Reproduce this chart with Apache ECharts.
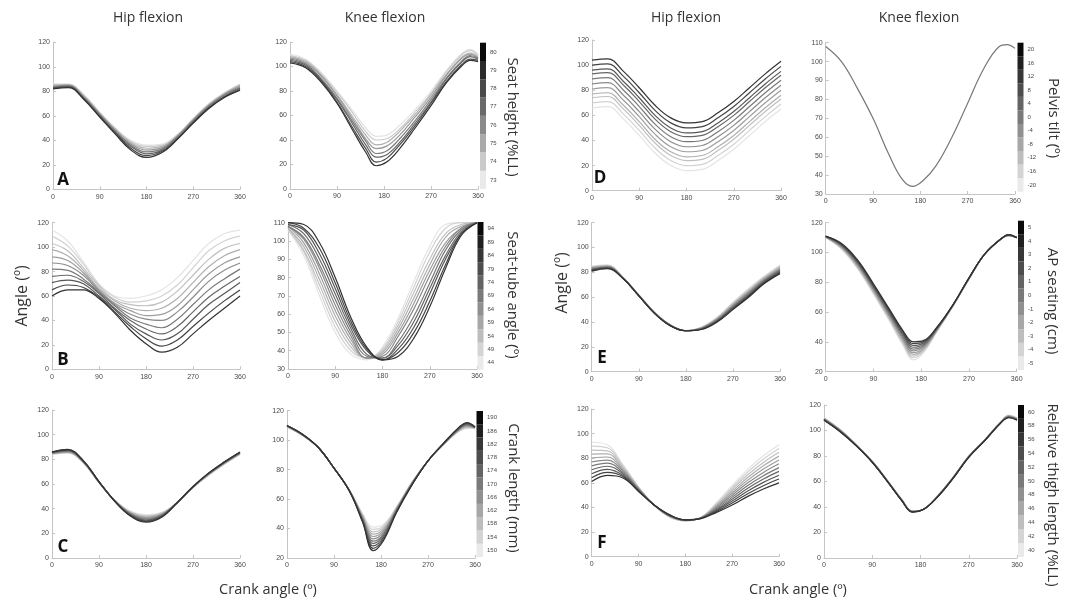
<!DOCTYPE html>
<html><head><meta charset="utf-8">
<script src="https://cdn.jsdelivr.net/npm/echarts/dist/echarts.min.js"></script>
<style>html,body{margin:0;padding:0;background:#fff}#c{width:1065px;height:604px}</style>
</head><body><div id="c"></div>
<script>
// crank angles (deg)
const X  = [0,30,60,90,120,150,180,210,240,270,300,330,360];
const XK = [0,30,60,90,120,145,165,185,210,240,270,300,330,345,360];

// colour-bar tick labels (bottom -> top)
const A_levels = ['73','74','75','76','77','78','79','80'];
const B_levels = ['44','49','54','59','64','69','74','79','84','89','94'];
const C_levels = ['150','154','158','162','166','170','174','178','182','186','190'];
const D_levels = ['-20','-16','-12','-8','-4','0','4','8','12','16','20'];
const E_levels = ['-5','-4','-3','-2','-1','0','1','2','3','4','5'];
const F_levels = ['40','42','44','46','48','50','52','54','56','58','60'];

// A: seat height, hip (X)
const A_hip = [
 [86,86,77,63,50,40,36,37,45,58,70,79,86],
 [85.5,85.5,76.5,62.5,49.5,39,35,36,44.5,57.5,69.5,78.5,85.5],
 [85,85,76,62,49,38,33.5,35,44,57,69,78,85],
 [84,85,75,61.5,48,37,32,34,43.5,56.5,68.5,77.5,84],
 [83.5,84.5,74.5,61,47.5,36,30.5,33,43,56,68,77,83],
 [83,84,74,60,46.5,35,29,32,42,55,67,76,82.5],
 [82.5,83.5,73.5,59.5,46,33.5,27.5,31,41.5,54.5,66.5,75.5,81.5],
 [82,83,73,59,45,32,26,30,41,54,66,75,81]
];
// A: knee (XK)
const A_knee = [
 [110,106,95,80,64,50,43,44,52,65,80,97,111,114,110],
 [109,105,94,79,62,47,40,41,49,63,78,96,110,113,109],
 [108,104,93,77,59,44,36,38,47,61,77,94,108,111,108],
 [107,103,92,76,57,41,33,35,44,59,75,93,107,110,107],
 [106,102,90,74,55,39,29,31,41,56,73,91,105,109,107],
 [105,101,89,73,53,36,26,28,38,54,71,90,104,108,106],
 [104,100,88,71,50,33,22,25,36,52,70,88,102,106,105],
 [103,99,87,70,48,30,19,22,33,50,68,87,101,105,104]
];
// B: seat-tube angle, hip (X)
const B_hip = [
 [114,105,88,70,60,58,60,65,75,89,103,111,114],
 [109,101,86,69,59,55,56,60,69,83,97,105,109],
 [103,97,83,68,57,53,52,55,64,77,90,99,103],
 [98,93,81,66,56,50,48,50,58,71,84,93,98],
 [92,89,79,65,54,48,44,45,52,65,78,87,92],
 [87,85,77,64,53,45,41,40,47,59,72,81,87],
 [82,81,74,63,52,42,37,34,41,53,65,74,82],
 [76,77,72,62,50,40,33,29,35,47,59,68,76],
 [71,73,70,60,49,37,29,24,29,41,53,62,71],
 [65,69,67,59,47,35,25,19,24,35,46,56,65],
 [60,65,65,58,46,32,21,14,18,29,40,50,60]
];
// B: knee (X)
const B_knee = [
 [106,92,70,50,38,35,42,58,78,97,109,110,110],
 [106,94,73,53,40,36,41,56,75,94,107,110,110],
 [107,95,76,56,42,36,40,54,72,90,104,109,110],
 [107,97,79,59,44,36,39,52,69,87,102,108,110],
 [108,99,82,62,46,36,38,50,66,84,99,107,110],
 [108,101,85,65,48,36,37,48,63,81,97,107,110],
 [108,102,87,68,50,37,36,45,59,77,95,106,110],
 [109,104,90,71,52,38,36,43,56,74,92,105,110],
 [109,106,93,74,54,40,35,41,53,71,90,104,110],
 [110,107,96,77,56,41,35,39,50,67,87,104,110],
 [110,109,99,80,58,42,35,37,47,64,85,103,110]
];
// C: crank length, hip (X)
const C_hip = [
 [84,85,77,61,47,38,35,37,45,57,67,76,84],
 [84.2,85.3,77.2,61.1,46.9,37.6,34.4,36.6,45,57.1,67.2,76.2,84.2],
 [84.4,85.6,77.4,61.2,46.8,37.2,33.8,36.2,45,57.2,67.4,76.4,84.4],
 [84.6,85.9,77.6,61.3,46.7,36.8,33.2,35.8,45,57.3,67.6,76.6,84.6],
 [84.8,86.2,77.8,61.4,46.6,36.4,32.6,35.4,45,57.4,67.8,76.8,84.8],
 [85,86.5,78,61.5,46.5,36,32,35,45,57.5,68,77,85],
 [85.2,86.8,78.2,61.6,46.4,35.6,31.4,34.6,45,57.6,68.2,77.2,85.2],
 [85.4,87.1,78.4,61.7,46.3,35.2,30.8,34.2,45,57.7,68.4,77.4,85.4],
 [85.6,87.4,78.6,61.8,46.2,34.8,30.2,33.8,45,57.8,68.6,77.6,85.6],
 [85.8,87.7,78.8,61.9,46.1,34.4,29.6,33.4,45,57.9,68.8,77.8,85.8],
 [86,88,79,62,46,34,29,33,45,58,69,78,86]
];
// C: knee (XK)
const C_knee = [
 [109,103,95,81,66,50,41,43,55,72,86,97,106,108,108],
 [109.1,103.1,95,81,65.9,49.4,39.4,41.9,54.6,71.8,86,97.1,106.3,108.4,108.1],
 [109.2,103.2,95,81,65.8,48.8,37.8,40.8,54.2,71.6,86,97.2,106.6,108.8,108.2],
 [109.3,103.3,95,81,65.7,48.2,36.2,39.7,53.8,71.4,86,97.3,106.9,109.2,108.3],
 [109.4,103.4,95,81,65.6,47.6,34.6,38.6,53.4,71.2,86,97.4,107.2,109.6,108.4],
 [109.5,103.5,95,81,65.5,47,33,37.5,53,71,86,97.5,107.5,110,108.5],
 [109.6,103.6,95,81,65.4,46.4,31.4,36.4,52.6,70.8,86,97.6,107.8,110.4,108.6],
 [109.7,103.7,95,81,65.3,45.8,29.8,35.3,52.2,70.6,86,97.7,108.1,110.8,108.7],
 [109.8,103.8,95,81,65.2,45.2,28.2,34.2,51.8,70.4,86,97.8,108.4,111.2,108.8],
 [109.9,103.9,95,81,65.1,44.6,26.6,33.1,51.4,70.2,86,97.9,108.7,111.6,108.9],
 [110,104,95,81,65,44,25,32,51,70,86,98,109,112,109]
];
// D: pelvis tilt, hip (X)
const D_hip = [
 [66,67,57,44,30,20,16,17,24,33,44,55,65],
 [70,71,61,48,34,24,20,21,28,37,48,59,69],
 [74,75,65,52,38,28,24,25,32,41,52,63,73],
 [77,78,68,55,41,31,27,28,35,44,55,66,76],
 [81,82,72,59,45,35,31,32,39,48,59,70,80],
 [85,86,76,63,49,39,35,36,43,52,63,74,84],
 [89,90,80,67,53,43,39,40,47,56,67,78,88],
 [93,94,84,71,57,47,43,44,51,60,71,82,92],
 [96,97,87,74,60,50,46,47,54,63,74,85,95],
 [100,101,91,78,64,54,50,51,58,67,78,89,99],
 [104,105,95,82,68,58,54,55,62,71,82,93,103]
];
// D: knee (XK) - all tilt levels coincide
const D_knee = [108,100,86,70,51,38,34,37,45,60,78,96,108,109,107];
// E: AP seating, hip (X)
const E_hip = [
 [85,86,76,62,48,38,33,36,44,56,67,77,86],
 [84.6,85.7,75.9,61.9,47.9,37.9,33,35.8,43.6,55.4,66.3,76.4,85.3],
 [84.2,85.4,75.8,61.8,47.8,37.8,33,35.6,43.2,54.8,65.6,75.8,84.6],
 [83.8,85.1,75.7,61.7,47.7,37.7,33,35.4,42.8,54.2,64.9,75.2,83.9],
 [83.4,84.8,75.6,61.6,47.6,37.6,33,35.2,42.4,53.6,64.2,74.6,83.2],
 [83,84.5,75.5,61.5,47.5,37.5,33,35,42,53,63.5,74,82.5],
 [82.6,84.2,75.4,61.4,47.4,37.4,33,34.8,41.6,52.4,62.8,73.4,81.8],
 [82.2,83.9,75.3,61.3,47.3,37.3,33,34.6,41.2,51.8,62.1,72.8,81.1],
 [81.8,83.6,75.2,61.2,47.2,37.2,33,34.4,40.8,51.2,61.4,72.2,80.4],
 [81.4,83.3,75.1,61.1,47.1,37.1,33,34.2,40.4,50.6,60.7,71.6,79.7],
 [81,83,75,61,47,37,33,34,40,50,60,71,79]
];
// E: knee (XK)
const E_knee = [
 [110,102,89,72,54,38,28,33,47,64,82,99,109,111,110],
 [110.1,102.4,89.6,72.7,54.8,39,29.2,33.8,47.3,64.1,82.1,99,109,111.1,110],
 [110.2,102.8,90.2,73.4,55.6,40,30.4,34.6,47.6,64.2,82.2,99,109,111.2,110],
 [110.3,103.2,90.8,74.1,56.4,41,31.6,35.4,47.9,64.3,82.3,99,109,111.3,110],
 [110.4,103.6,91.4,74.8,57.2,42,32.8,36.2,48.2,64.4,82.4,99,109,111.4,110],
 [110.5,104,92,75.5,58,43,34,37,48.5,64.5,82.5,99,109,111.5,110],
 [110.6,104.4,92.6,76.2,58.8,44,35.2,37.8,48.8,64.6,82.6,99,109,111.6,110],
 [110.7,104.8,93.2,76.9,59.6,45,36.4,38.6,49.1,64.7,82.7,99,109,111.7,110],
 [110.8,105.2,93.8,77.6,60.4,46,37.6,39.4,49.4,64.8,82.8,99,109,111.8,110],
 [110.9,105.6,94.4,78.3,61.2,47,38.8,40.2,49.7,64.9,82.9,99,109,111.9,110],
 [111,106,95,79,62,48,40,41,50,65,83,99,109,112,110]
];
// F: relative thigh length, hip (X)
const F_hip = [
 [93,91,75,57,42,32,29,32,44,58,71,82,91],
 [89.8,88.5,73.9,56.6,42,32.2,29.1,31.9,43.2,56.4,68.8,79.3,87.9],
 [86.6,86,72.8,56.2,42,32.4,29.2,31.8,42.4,54.8,66.6,76.6,84.8],
 [83.4,83.5,71.7,55.8,42,32.6,29.3,31.7,41.6,53.2,64.4,73.9,81.7],
 [80.2,81,70.6,55.4,42,32.8,29.4,31.6,40.8,51.6,62.2,71.2,78.6],
 [77,78.5,69.5,55,42,33,29.5,31.5,40,50,60,68.5,75.5],
 [73.8,76,68.4,54.6,42,33.2,29.6,31.4,39.2,48.4,57.8,65.8,72.4],
 [70.6,73.5,67.3,54.2,42,33.4,29.7,31.3,38.4,46.8,55.6,63.1,69.3],
 [67.4,71,66.2,53.8,42,33.6,29.8,31.2,37.6,45.2,53.4,60.4,66.2],
 [64.2,68.5,65.1,53.4,42,33.8,29.9,31.1,36.8,43.6,51.2,57.7,63.1],
 [61,66,64,53,42,34,30,31,36,42,49,55,60]
];
// F: knee (XK)
const F_knee = [
 [110,101,89,76,60,46,37,38,48,63,80,93,107,112,110],
 [109.8,100.8,88.9,75.9,59.9,45.9,36.9,38,47.9,62.9,79.9,92.9,106.9,111.8,109.8],
 [109.6,100.6,88.8,75.8,59.8,45.8,36.8,38,47.8,62.8,79.8,92.8,106.8,111.6,109.6],
 [109.4,100.4,88.7,75.7,59.7,45.7,36.7,38,47.7,62.7,79.7,92.7,106.7,111.4,109.4],
 [109.2,100.2,88.6,75.6,59.6,45.6,36.6,38,47.6,62.6,79.6,92.6,106.6,111.2,109.2],
 [109,100,88.5,75.5,59.5,45.5,36.5,38,47.5,62.5,79.5,92.5,106.5,111,109],
 [108.8,99.8,88.4,75.4,59.4,45.4,36.4,38,47.4,62.4,79.4,92.4,106.4,110.8,108.8],
 [108.6,99.6,88.3,75.3,59.3,45.3,36.3,38,47.3,62.3,79.3,92.3,106.3,110.6,108.6],
 [108.4,99.4,88.2,75.2,59.2,45.2,36.2,38,47.2,62.2,79.2,92.2,106.2,110.4,108.4],
 [108.2,99.2,88.1,75.1,59.1,45.1,36.1,38,47.1,62.1,79.1,92.1,106.1,110.2,108.2],
 [108,99,88,75,59,45,36,38,47,62,79,92,106,110,108]
];

// ---------- layout / styling ----------
const panels = [
 {g:[53,42.3,187,147],    y:[0,120,20],  xs:X,  d:A_hip},
 {g:[290,42,188,147],     y:[0,120,20],  xs:XK, d:A_knee},
 {g:[52,222.7,188,146.6], y:[0,120,20],  xs:X,  d:B_hip},
 {g:[288,222.7,189,146.3],y:[30,110,10], xs:X,  d:B_knee},
 {g:[52,410,188,148],     y:[0,120,20],  xs:X,  d:C_hip},
 {g:[287,410.7,188,147.3],y:[20,120,20], xs:XK, d:C_knee},
 {g:[592,40,189,150.7],   y:[0,120,20],  xs:X,  d:D_hip},
 {g:[825.7,42.7,189.3,151.3],y:[30,110,10],xs:XK,d:[D_knee], fixed:'#777777'},
 {g:[591.7,222.7,188.3,149],y:[0,120,20],xs:X,  d:E_hip},
 {g:[825.7,222.7,191,149],y:[20,120,20], xs:XK, d:E_knee},
 {g:[591.7,409,187.3,147.7],y:[0,120,20],xs:X,  d:F_hip},
 {g:[824,405,193,153],    y:[0,120,20],  xs:XK, d:F_knee}
];
const bars = [
 {g:[480,42.7,6,146.3],   l:A_levels},
 {g:[477.5,222,6,147.5],  l:B_levels},
 {g:[476.5,411,6.5,146],  l:C_levels},
 {g:[1017.5,42.7,6,149],  l:D_levels},
 {g:[1018,220.7,6,149.3], l:E_levels},
 {g:[1018,405,6,152],     l:F_levels}
];
function gray(i,n,lo,hi){ const v = Math.round(hi - i*((hi-lo)/(n-1))); return 'rgb('+v+','+v+','+v+')'; }

const AX = '#c4c4c4', LBL = '#4a4a4a';
const grid=[], xAxis=[], yAxis=[], series=[];
panels.forEach((p,k)=>{
  grid.push({left:p.g[0],top:p.g[1],width:p.g[2],height:p.g[3],containLabel:false,outerBoundsMode:'none'});
  xAxis.push({gridIndex:k,type:'value',min:0,max:360,interval:90,
    axisLine:{show:true,onZero:false,lineStyle:{color:AX,width:1}},
    axisTick:{show:true,inside:true,length:3,lineStyle:{color:AX}},
    axisLabel:{fontSize:7,color:LBL,margin:4,fontFamily:'Liberation Sans'},
    splitLine:{show:false}});
  yAxis.push({gridIndex:k,type:'value',min:p.y[0],max:p.y[1],interval:p.y[2],
    axisLine:{show:true,onZero:false,lineStyle:{color:AX,width:1}},
    axisTick:{show:true,inside:true,length:3,lineStyle:{color:AX}},
    axisLabel:{fontSize:7,color:LBL,margin:3,fontFamily:'Liberation Sans'},
    splitLine:{show:false}});
  const n = p.d.length;
  p.d.forEach((ys,i)=>{
    series.push({type:'line',xAxisIndex:k,yAxisIndex:k,smooth:0.4,showSymbol:false,symbol:'none',
      silent:true,clip:true,
      lineStyle:{width:1.2,color:p.fixed||gray(i,n,50,228)},
      data:p.xs.map((x,j)=>[x,ys[j]])});
  });
});
bars.forEach((b,m)=>{
  const k = grid.length;
  grid.push({left:b.g[0],top:b.g[1],width:b.g[2],height:b.g[3],containLabel:false,outerBoundsMode:'none'});
  xAxis.push({gridIndex:k,type:'value',min:0,max:1,show:false});
  yAxis.push({gridIndex:k,type:'category',data:b.l,position:'right',boundaryGap:true,
    axisLine:{show:false},axisTick:{show:false},splitLine:{show:false},
    axisLabel:{fontSize:6,color:LBL,margin:4,fontFamily:'Liberation Sans',interval:0}});
  const n=b.l.length;
  series.push({type:'bar',xAxisIndex:k,yAxisIndex:k,barWidth:'100%',barCategoryGap:'0%',silent:true,
    data:b.l.map((l,i)=>({value:1,itemStyle:{color:gray(i,n,10,234)}}))});
});

const FONT='"Open Sans", "Noto Sans", sans-serif';
function T(text,x,y,size,rot,weight,fill){
  return {type:'text',x:x,y:y,rotation:rot||0,z:100,silent:true,
    style:{text:text,fontSize:size,fontFamily:FONT,fontWeight:weight||'normal',fill:fill||'#333',
      align:'center',verticalAlign:'middle',textAlign:'center',textVerticalAlign:'middle'}};
}
const R = Math.PI/2;
const graphic = [
  T('Hip flexion',148,18,14), T('Knee flexion',385,18,14),
  T('Hip flexion',686,18,14), T('Knee flexion',919,18,14),
  T('Angle (º)',22,296,16,R), T('Angle (º)',562,283,16,R),
  T('Crank angle (º)',268,590,14.5), T('Crank angle (º)',798,590,14.5),
  T('Seat height (%LL)',512,117,15,-R), T('Seat-tube angle (º)',512,295,15,-R),
  T('Crank length (mm)',513,488,15,-R), T('Pelvis tilt (º)',1053,118,15,-R),
  T('AP seating (cm)',1052,301,15,-R), T('Relative thigh length (%LL)',1052,495,15,-R),
  T('A',63,180,17,0,'bold','#111'), T('B',63,360,17,0,'bold','#111'), T('C',63,547,17,0,'bold','#111'),
  T('D',600,178,17,0,'bold','#111'), T('E',602,358,17,0,'bold','#111'), T('F',602,543,17,0,'bold','#111')
];

const chart = echarts.init(document.getElementById('c'),null,{renderer:'canvas'});
chart.setOption({animation:false,backgroundColor:'#fff',grid,xAxis,yAxis,series,graphic});
</script></body></html>
